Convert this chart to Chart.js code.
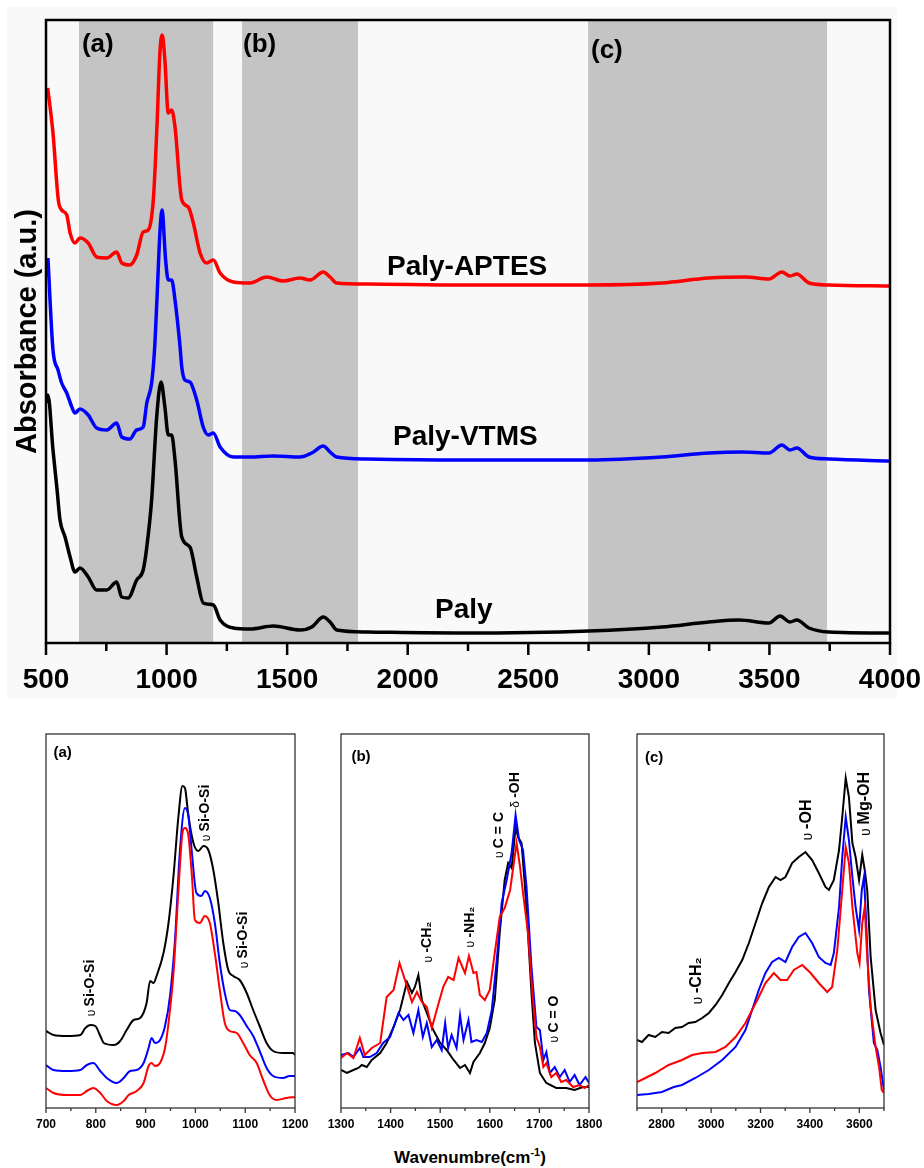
<!DOCTYPE html>
<html>
<head>
<meta charset="utf-8">
<script src="https://cdn.jsdelivr.net/npm/chart.js@4.4.1/dist/chart.umd.min.js"></script>
<style>
  body { margin: 0; background: #fff; width: 924px; height: 1168px; position: relative; overflow: hidden;
         font-family: "Liberation Sans", Arial, sans-serif; }
  canvas { position: absolute; }
  .bg { position: absolute; background: #f9f9f9; }
  #xtitle { position: absolute; left: 0; width: 940px; top: 1146px; text-align: center;
            font-weight: bold; font-size: 17px; color: #000; }
  #xtitle sup { font-size: 11px; }
</style>
</head>
<body>
<div class="bg" style="left:7px;top:7px;width:890px;height:691px"></div>
<canvas id="main" width="924" height="700" style="left:0;top:0"></canvas>
<canvas id="insetA" width="310" height="430" style="left:10px;top:715px"></canvas>
<canvas id="insetB" width="290" height="430" style="left:320px;top:715px"></canvas>
<canvas id="insetC" width="290" height="430" style="left:615px;top:715px"></canvas>
<div id="xtitle">Wavenumbre(cm<sup>-1</sup>)</div>
<script>
// ---- main spectrum (wavenumber, absorbance a.u.) ----
const aptesWave = [507,529,551,565,586,600,620,641,675,710,752,793,814,848,876,903,924,945,959,973,982,993,1007,1021,1035,1063,1090,1111,1139,1166,1194,1222,1277,1346,1415,1484,1553,1595,1650,1678,1706,1830,2225,2750,3054,3249,3399,3498,3552,3585,3614,3664,3747,4000]
const aptesAbs = [555,510,443,433,428,410,400,405,400,386,385,391,380,378,388,411,413,443,510,593,608,583,530,533,516,443,436,420,390,380,383,370,361,360,366,362,365,363,371,366,360,359,358,358,360,365,366,364,371,367,369,360,358,357]

const vtmsWave = [508,529,550,565,586,607,620,641,675,710,752,793,814,848,876,903,918,938,950,960,973,981,996,1007,1021,1035,1056,1063,1076,1097,1125,1152,1173,1194,1222,1277,1346,1443,1553,1602,1650,1678,1706,1830,2225,2752,3054,3249,3386,3498,3552,3585,3614,3664,3747,4000]
const vtmsAbs = [385,293,273,260,250,236,230,234,228,215,213,220,206,204,213,216,240,260,293,343,413,433,383,363,363,343,296,276,263,261,243,216,208,210,196,186,186,187,186,190,197,191,186,184,183,183,186,190,191,190,198,193,195,186,184,182]

const palyWave = [502,508,529,546,558,579,600,620,641,675,710,752,793,814,841,876,903,918,938,959,977,993,1007,1021,1035,1063,1097,1125,1152,1194,1222,1277,1346,1443,1553,1602,1650,1678,1706,1830,2225,2752,3054,3249,3374,3498,3544,3585,3614,3664,3747,4000]
const palyAbs = [240,248,193,153,123,106,86,71,75,66,53,53,61,46,45,63,73,96,143,226,261,236,208,208,183,106,96,66,40,38,23,15,14,17,13,16,26,21,13,11,10,12,16,21,23,20,27,21,23,15,11,10]

const bandRanges = [[637, 1193], [1313, 1794], [2748, 3739]]

// ---- inset (a) 700-1200 ----
const aPalyWave = [700,715,742,769,779,789,799,809,816,836,849,862,876,889,902,909,916,922,936,946,956,966,974,979,986,996,1006,1016,1026,1036,1046,1056,1066,1076,1089,1103,1116,1129,1143,1156,1176,1196,1200]
const aPaly = [77,73,72,73,80,83,82,72,65,63,67,78,88,90,105,127,125,132,155,185,232,292,322,320,292,265,257,262,258,238,205,165,138,132,128,115,98,82,65,57,55,55,53]
const aVtmsWave = [700,715,742,769,782,795,809,822,842,856,869,882,896,906,912,919,929,939,949,959,969,979,986,993,1002,1012,1019,1029,1039,1049,1059,1069,1079,1089,1103,1116,1129,1143,1156,1176,1189,1200]
const aVtms = [43,38,37,38,43,45,37,30,25,30,37,38,45,60,70,65,68,82,112,168,258,300,292,255,215,212,217,210,185,145,115,98,97,93,82,72,57,40,32,30,32,32]
const aAptesWave = [700,715,742,769,782,795,809,822,842,856,866,882,896,906,912,919,929,939,946,956,966,974,979,986,993,999,1009,1019,1029,1039,1049,1059,1069,1083,1096,1109,1123,1136,1149,1163,1183,1200]
const aAptes = [20,15,13,13,17,20,15,7,3,7,13,17,25,42,45,42,45,60,85,135,218,275,280,272,232,188,185,192,185,155,118,85,77,75,65,53,45,28,13,8,10,11]

// ---- inset (b) 1300-1800 ----
const bPalyWave = [1300,1312,1325,1335,1342,1352,1362,1379,1392,1406,1419,1433,1443,1449,1456,1463,1473,1486,1500,1513,1527,1540,1550,1560,1567,1580,1590,1600,1610,1620,1630,1637,1644,1652,1657,1664,1671,1677,1684,1691,1701,1714,1734,1754,1771,1788,1800]
const bPaly = [38,35,38,40,43,41,48,55,65,81,98,126,115,121,133,108,95,78,65,58,48,40,43,35,46,55,65,80,108,175,228,245,240,281,271,265,221,175,115,65,35,25,20,20,18,21,21]
const bVtmsWave = [1300,1315,1325,1338,1345,1358,1372,1385,1399,1416,1426,1436,1446,1456,1465,1473,1483,1493,1503,1510,1516,1523,1533,1540,1547,1557,1563,1573,1584,1594,1604,1614,1624,1634,1644,1652,1659,1667,1674,1684,1694,1701,1708,1714,1721,1731,1741,1751,1761,1771,1781,1793,1800]
const bVtms = [53,55,51,60,51,51,55,65,71,95,88,93,75,98,71,85,61,68,58,85,60,73,60,93,68,88,66,68,66,75,98,148,205,228,255,293,268,258,221,141,81,78,48,56,35,41,31,38,26,33,23,31,25]
const bAptesWave = [1300,1312,1325,1338,1348,1362,1379,1392,1406,1418,1429,1443,1453,1463,1473,1483,1493,1506,1516,1527,1537,1550,1558,1567,1573,1580,1590,1600,1610,1620,1630,1641,1654,1661,1667,1677,1687,1694,1701,1708,1714,1724,1734,1744,1754,1768,1781,1791,1800]
const bAptes = [50,55,50,70,53,60,65,111,118,145,128,106,116,106,101,80,98,121,131,128,150,135,152,135,136,113,108,118,155,191,200,218,265,241,215,175,108,71,61,41,45,31,35,26,28,21,23,20,23]

// ---- inset (c) 2700-3700 ----
const cPalyWave = [2700,2720,2747,2774,2801,2828,2855,2882,2909,2936,2964,2991,3018,3045,3072,3099,3126,3153,3180,3207,3234,3261,3281,3301,3328,3355,3382,3409,3436,3463,3477,3497,3518,3531,3545,3558,3572,3585,3599,3612,3622,3632,3646,3666,3686,3700]
const cPaly = [68,66,73,71,76,75,80,81,85,86,90,95,103,113,125,136,148,165,185,205,221,231,228,231,245,251,256,248,235,221,218,228,258,291,330,311,265,251,228,253,238,218,151,98,75,63]
const cVtmsWave = [2700,2747,2801,2849,2882,2936,2991,3045,3099,3139,3166,3193,3220,3247,3274,3301,3328,3355,3382,3409,3436,3463,3484,3497,3518,3531,3545,3558,3572,3585,3599,3610,3619,3628,3639,3659,3673,3686,3700]
const cVtms = [13,14,16,21,23,30,38,48,61,78,98,118,135,146,150,146,161,171,175,165,151,145,143,155,201,251,291,268,231,201,178,218,231,185,118,65,58,41,18]
const cAptesWave = [2700,2734,2774,2828,2882,2923,2964,3018,3058,3099,3139,3166,3193,3220,3254,3281,3308,3335,3369,3403,3436,3470,3490,3511,3531,3545,3558,3572,3592,3601,3612,3622,3632,3646,3666,3680,3691,3700]
const cAptes = [26,30,35,43,48,53,55,56,61,71,85,98,111,125,135,128,128,138,143,135,125,116,121,158,218,261,245,201,155,145,185,201,151,101,61,41,18,15]

const RED = '#ff0000', BLUE = '#0000ff', BLACK = '#000000'
const FONT = '"Liberation Sans", Arial, sans-serif'

// draws shaded bands, the box, outward ticks and the text labels
const frame = {
  id: 'frame',
  beforeDatasetsDraw(chart, args, o) {
    const { ctx, chartArea: a, scales: { x } } = chart
    ctx.save()
    ctx.fillStyle = '#c4c4c4'
    ;(o.bands || []).forEach(b => {
      const l = x.getPixelForValue(b[0]), r = x.getPixelForValue(b[1])
      ctx.fillRect(l, a.top, r - l, a.bottom - a.top)
    })
    ctx.restore()
  },
  afterDatasetsDraw(chart, args, o) {
    const { ctx, chartArea: a, scales: { x, y } } = chart
    ctx.save()
    ctx.strokeStyle = o.color
    ctx.lineWidth = o.width
    ctx.strokeRect(a.left, a.top, a.right - a.left, a.bottom - a.top)
    for (let v = x.min; v <= x.max + 1e-6; v += o.minor) {
      const px = x.getPixelForValue(v)
      const major = Math.abs(v / o.major - Math.round(v / o.major)) < 1e-6
      ctx.beginPath()
      ctx.moveTo(px, a.bottom)
      ctx.lineTo(px, a.bottom + (major ? o.majorLen : o.minorLen))
      ctx.stroke()
    }
    ctx.fillStyle = '#000'
    ctx.textBaseline = 'middle'
    ;(o.texts || []).forEach(t => {
      ctx.font = t.font
      ctx.textAlign = 'left'
      ctx.fillText(t.t, x.getPixelForValue(t.x), y.getPixelForValue(t.y))
    })
    const symFont = (o.noteSize - 2) + 'px ' + FONT
    const noteFont = 'bold ' + o.noteSize + 'px ' + FONT
    ;(o.notes || []).forEach(n => {
      ctx.save()
      ctx.translate(x.getPixelForValue(n.x), y.getPixelForValue(n.y))
      ctx.rotate(-Math.PI / 2)
      ctx.font = symFont
      const w1 = ctx.measureText(n.sym + ' ').width
      ctx.font = noteFont
      const w2 = ctx.measureText(n.t).width
      const sx = -(w1 + w2) / 2
      ctx.textAlign = 'left'
      ctx.font = symFont
      ctx.fillText(n.sym, sx, 1)
      ctx.font = noteFont
      ctx.fillText(n.t, sx + w1, 0)
      ctx.restore()
    })
    ctx.restore()
  }
}

function series(wave, abs, color) {
  return { wave, abs, color }
}

function makeChart(id, list, opt) {
  return new Chart(document.getElementById(id), {
    type: 'line',
    data: {
      datasets: list.map(s => ({
        data: s.wave.map((w, i) => ({ x: w, y: s.abs[i] })),
        borderColor: s.color,
        borderWidth: opt.lw,
        pointRadius: 0,
        fill: false,
        cubicInterpolationMode: opt.smooth ? 'monotone' : 'default',
        tension: 0
      }))
    },
    options: {
      responsive: false,
      animation: false,
      events: [],
      layout: { padding: opt.pad },
      plugins: { legend: { display: false }, tooltip: { enabled: false }, frame: opt.frame },
      scales: {
        x: {
          type: 'linear', min: opt.xmin, max: opt.xmax,
          afterFit: s => { s.height = opt.xh },
          // tick marks come from the frame plugin; tickLength only offsets the labels
          grid: { display: false, drawTicks: true, tickLength: opt.tpad },
          border: { display: false },
          ticks: {
            stepSize: opt.step, autoSkip: false, maxRotation: 0, padding: 0,
            color: '#000', font: opt.tfont,
            callback: v => (v % opt.every === 0 ? String(v) : '')
          }
        },
        y: opt.y
      }
    },
    plugins: [frame]
  })
}

makeChart('main', [series(aptesWave, aptesAbs, RED), series(vtmsWave, vtmsAbs, BLUE), series(palyWave, palyAbs, BLACK)], {
  lw: 3.5, smooth: true, xmin: 500, xmax: 4000, step: 250, every: 500, xh: 57, tpad: 20,
  tfont: { family: FONT, size: 28, weight: 'bold' },
  pad: { left: 0, top: 20, right: 34, bottom: 0 },
  y: {
    min: 0, max: 623,
    afterFit: s => { s.width = 46 },
    grid: { display: false }, border: { display: false }, ticks: { display: false },
    title: { display: true, text: 'Absorbance (a.u.)', color: '#000', padding: { top: 11, bottom: 0 },
             font: { family: FONT, size: 29, weight: 'bold' } }
  },
  frame: {
    color: '#000', width: 2.5, major: 500, minor: 250, majorLen: 12, minorLen: 8,
    bands: bandRanges,
    texts: [
      { t: '(a)', x: 649, y: 598, font: 'bold 26px ' + FONT },
      { t: '(b)', x: 1317, y: 598, font: 'bold 26px ' + FONT },
      { t: '(c)', x: 2760, y: 592, font: 'bold 26px ' + FONT },
      { t: 'Paly-APTES', x: 1914, y: 376, font: 'bold 28px ' + FONT },
      { t: 'Paly-VTMS', x: 1939, y: 206, font: 'bold 28px ' + FONT },
      { t: 'Paly', x: 2113, y: 33, font: 'bold 28px ' + FONT }
    ]
  }
})

const insetY = { display: false, min: 0, max: 374 }
const insetTickFont = { family: FONT, size: 12, weight: 'bold' }
const insetFrame = { color: '#333', width: 1.3, majorLen: 5, minorLen: 3, noteSize: 14 }

makeChart('insetA', [series(aAptesWave, aAptes, RED), series(aVtmsWave, aVtms, BLUE), series(aPalyWave, aPaly, BLACK)], {
  lw: 2, smooth: true, xmin: 700, xmax: 1200, step: 50, every: 100, xh: 37, tpad: 9,
  tfont: insetTickFont, pad: { left: 36, top: 19, right: 25, bottom: 0 }, y: insetY,
  frame: Object.assign({}, insetFrame, {
    major: 100, minor: 50,
    texts: [{ t: '(a)', x: 715, y: 355, font: 'bold 15px ' + FONT }],
    notes: [
      { sym: 'υ', t: 'Si-O-Si', x: 789, y: 120 },
      { sym: 'υ', t: 'Si-O-Si', x: 1020, y: 295 },
      { sym: 'υ', t: 'Si-O-Si', x: 1096, y: 168 }
    ]
  })
})

makeChart('insetB', [series(bAptesWave, bAptes, RED), series(bVtmsWave, bVtms, BLUE), series(bPalyWave, bPaly, BLACK)], {
  lw: 2, smooth: false, xmin: 1300, xmax: 1800, step: 50, every: 100, xh: 37, tpad: 9,
  tfont: insetTickFont, pad: { left: 21, top: 19, right: 21, bottom: 0 }, y: insetY,
  frame: Object.assign({}, insetFrame, {
    major: 100, minor: 50,
    texts: [{ t: '(b)', x: 1321, y: 351, font: 'bold 15px ' + FONT }],
    notes: [
      { sym: 'υ', t: '-CH₂', x: 1474, y: 166 },
      { sym: 'υ', t: '-NH₂', x: 1560, y: 181 },
      { sym: 'υ', t: 'C = C', x: 1618, y: 273 },
      { sym: 'δ', t: '-OH', x: 1651, y: 318 },
      { sym: 'υ', t: 'C = O', x: 1729, y: 89 }
    ]
  })
})

makeChart('insetC', [series(cAptesWave, cAptes, RED), series(cVtmsWave, cVtms, BLUE), series(cPalyWave, cPaly, BLACK)], {
  lw: 2, smooth: false, xmin: 2700, xmax: 3700, step: 100, every: 200, xh: 37, tpad: 9,
  tfont: insetTickFont, pad: { left: 22, top: 19, right: 21, bottom: 0 }, y: insetY,
  frame: Object.assign({}, insetFrame, {
    major: 200, minor: 100, noteSize: 16,
    texts: [{ t: '(c)', x: 2732, y: 350, font: 'bold 15px ' + FONT }],
    notes: [
      { sym: 'υ', t: '-CH₂', x: 2943, y: 127 },
      { sym: 'υ', t: '-OH', x: 3388, y: 288 },
      { sym: 'υ', t: 'Mg-OH', x: 3623, y: 304 }
    ]
  })
})
</script>
</body>
</html>
